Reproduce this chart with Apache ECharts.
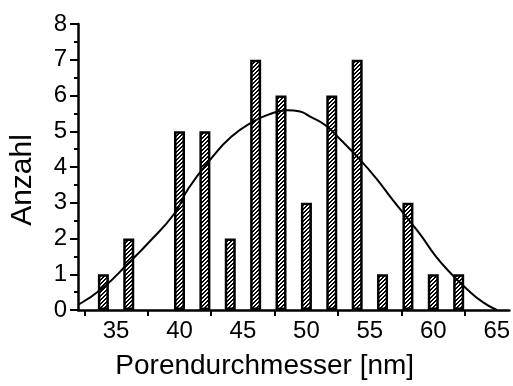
<!DOCTYPE html>
<html>
<head>
<meta charset="utf-8">
<script src="https://cdn.jsdelivr.net/npm/echarts@6/dist/echarts.min.js"></script>
<style>
  html, body { margin: 0; padding: 0; background: #fff; }
  #chart { width: 513px; height: 386px; }
</style>
</head>
<body>
<div id="chart"></div>
<script>
// histogram bins (pore diameter, nm) and counts
const binCenters = [34, 36, 40, 42, 44, 46, 48, 50, 52, 54, 56, 58, 60, 62];
const counts = [1, 2, 5, 5, 2, 7, 6, 3, 6, 7, 1, 3, 1, 1];

// fitted curve
const fitX = [32.0, 34.0, 36.0, 37.5, 39.6, 40.7, 42.5, 44.1, 45.8, 46.9, 48.5, 49.5, 50.3, 51.5, 52.7, 54.0, 55.5, 56.8, 58.0, 59.0, 60.2, 61.5, 62.6, 63.9, 65.0];
const fitY = [0.14, 0.63, 1.32, 1.86, 2.70, 3.40, 4.24, 4.85, 5.27, 5.45, 5.59, 5.55, 5.41, 5.17, 4.76, 4.29, 3.68, 3.08, 2.55, 2.10, 1.50, 0.98, 0.60, 0.22, 0.0];

const xLabelValues = [35, 40, 45, 50, 55, 60, 65];
const xTickValues = [32.5, 37.5, 42.5, 47.5, 52.5, 57.5, 62.5];

const font = "'Liberation Sans', Arial, sans-serif";

// crisp "////" hatch tile
const makeHatch = () => {
  const c = document.createElement('canvas');
  c.width = 4;
  c.height = 4;
  const ctx = c.getContext('2d');
  ctx.fillStyle = '#fff';
  ctx.fillRect(0, 0, 4, 4);
  ctx.fillStyle = '#000';
  for (let y = 0; y < 4; y++) {
    ctx.fillRect((3 - y + 4) % 4, y, 1, 1);
    ctx.fillRect((4 - y + 4) % 4, y, 1, 1);
  }
  return c;
};

const chart = echarts.init(document.getElementById('chart'), null, { renderer: 'canvas' });

chart.setOption({
  animation: false,
  backgroundColor: '#fff',
  grid: { left: 75, right: 3, top: 24, bottom: 76 },
  xAxis: {
    type: 'value',
    min: 32,
    max: 66,
    name: 'Porendurchmesser [nm]',
    nameLocation: 'middle',
    nameGap: 42,
    nameTextStyle: { color: '#000', fontSize: 28, fontFamily: font, padding: [0, 58, 0, 0] },
    axisLine: { lineStyle: { color: '#000', width: 2.5 } },
    axisTick: { customValues: xTickValues, length: 6, lineStyle: { color: '#000', width: 2 } },
    axisLabel: { customValues: xLabelValues, color: '#000', fontSize: 24, fontFamily: font, margin: 9 },
    splitLine: { show: false }
  },
  yAxis: {
    type: 'value',
    min: 0,
    max: 8,
    interval: 1,
    name: 'Anzahl',
    nameLocation: 'middle',
    nameGap: 40,
    nameTextStyle: { color: '#000', fontSize: 30, fontFamily: font, padding: [0, 26, 0, 0] },
    axisLine: { show: true, lineStyle: { color: '#000', width: 2.5 } },
    axisTick: { show: true, length: 8, lineStyle: { color: '#000', width: 2 } },
    minorTick: { show: true, splitNumber: 2, length: 4, lineStyle: { color: '#000', width: 2 } },
    axisLabel: { color: '#000', fontSize: 24, fontFamily: font, margin: 11 },
    splitLine: { show: false }
  },
  series: [
    {
      type: 'bar',
      data: binCenters.map((x, i) => [x, counts[i]]),
      barWidth: 11,
      itemStyle: {
        color: { image: makeHatch(), repeat: 'repeat' },
        borderColor: '#000',
        borderWidth: 2.5
      },
      z: 2
    },
    {
      type: 'line',
      data: fitX.map((x, i) => [x, fitY[i]]),
      smooth: true,
      showSymbol: false,
      lineStyle: { color: '#000', width: 2 },
      z: 3
    }
  ]
});
</script>
</body>
</html>
